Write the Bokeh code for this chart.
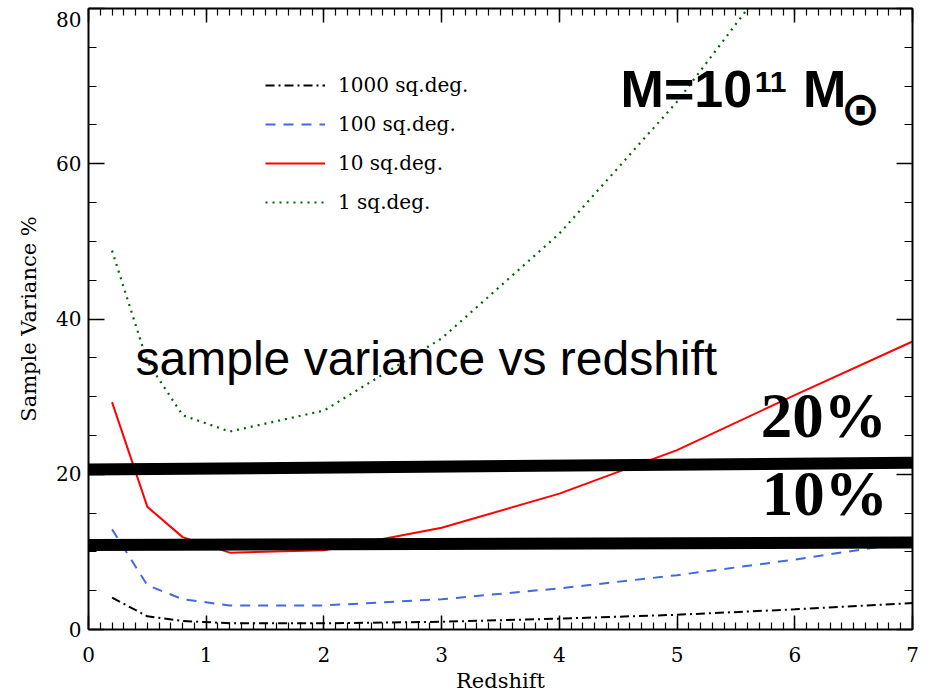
from bokeh.plotting import figure
from bokeh.models import (Range1d, LinearAxis, Label, Legend, LegendItem,
                          SingleIntervalTicker, CustomJSTickFormatter)
from bokeh.embed import file_html
from bokeh.resources import INLINE

# ---- data ----
redshift = [0.2, 0.5, 0.8, 1.2, 2.0, 3.0, 4.0, 5.0, 6.0, 7.0]
var_1000 = [4.1, 1.7, 1.1, 0.8, 0.8, 1.0, 1.4, 1.9, 2.6, 3.4]
var_100 = [12.9, 5.7, 3.9, 3.1, 3.1, 3.9, 5.3, 7.0, 9.0, 11.3]
var_10 = [29.3, 15.8, 11.9, 9.9, 10.2, 13.1, 17.5, 23.1, 30.2, 37.1]
var_1 = [48.8, 34.5, 27.6, 25.5, 28.2, 37.5, 51.0, 68.0, 88.0, 110.0]

labels = ["1000 sq.deg.", "100 sq.deg.", "10 sq.deg.", "1 sq.deg."]

# thick threshold bars drawn over the plot
bar_x = [-0.04, 7.2]
bar20_y = [20.6, 21.5]
bar10_y = [10.9, 11.2]

SERIF = "DejaVu Serif"

p = figure(width=936, height=695, x_range=Range1d(0, 7), y_range=Range1d(0, 80),
           output_backend="svg", toolbar_location=None,
           min_border_left=88, min_border_right=24, min_border_top=8, min_border_bottom=66,
           background_fill_color="white", border_fill_color="white")
p.outline_line_color = None
p.xgrid.visible = False
p.ygrid.visible = False


def style_axis(ax, ticker):
    ax.ticker = ticker
    ax.axis_line_color = "black"
    ax.axis_line_width = 2
    ax.major_tick_line_color = "black"
    ax.minor_tick_line_color = "black"
    ax.major_tick_line_width = 1.5
    ax.minor_tick_line_width = 1.2
    ax.major_tick_out = 0
    ax.minor_tick_out = 0
    ax.major_label_text_font = SERIF
    ax.major_label_text_color = "black"
    ax.major_label_text_font_size = "20px"


style_axis(p.xaxis[0], SingleIntervalTicker(interval=1, num_minor_ticks=10))
p.xaxis[0].major_tick_in = 14
p.xaxis[0].minor_tick_in = 7
p.xaxis[0].major_label_standoff = 17
p.xaxis[0].axis_label = "Redshift"
p.xaxis[0].axis_label_text_font = SERIF
p.xaxis[0].axis_label_text_color = "black"
p.xaxis[0].axis_label_text_font_style = "normal"
p.xaxis[0].axis_label_text_font_size = "21px"
p.xaxis[0].axis_label_standoff = 4

style_axis(p.yaxis[0], SingleIntervalTicker(interval=20, num_minor_ticks=4))
p.yaxis[0].major_tick_in = 16
p.yaxis[0].minor_tick_in = 8
p.yaxis[0].major_label_standoff = 7
# the top label sits just below its tick (as in the reference) so it stays on the page
p.yaxis[0].major_label_overrides = {80: "\n80"}
p.yaxis[0].major_label_text_line_height = 0.3
p.yaxis[0].axis_label = "Sample Variance %"
p.yaxis[0].axis_label_text_font = SERIF
p.yaxis[0].axis_label_text_color = "black"
p.yaxis[0].axis_label_text_font_style = "normal"
p.yaxis[0].axis_label_text_font_size = "21px"
p.yaxis[0].axis_label_standoff = 12

blank = CustomJSTickFormatter(code="return ''")

top = LinearAxis(formatter=blank)
style_axis(top, SingleIntervalTicker(interval=1, num_minor_ticks=10))
top.major_tick_in = 14
top.minor_tick_in = 7
top.major_label_standoff = 0
p.add_layout(top, "above")

right = LinearAxis(formatter=blank)
style_axis(right, SingleIntervalTicker(interval=20, num_minor_ticks=4))
right.major_tick_in = 16
right.minor_tick_in = 8
right.major_label_standoff = 0
p.add_layout(right, "right")

# ---- series ----
r1000 = p.line(redshift, var_1000, line_color="black", line_width=2, line_dash="9 4 2 4")
r100 = p.line(redshift, var_100, line_color="#4169e1", line_width=2, line_dash="10 8")
r10 = p.line(redshift, var_10, line_color="red", line_width=2)
r1 = p.line(redshift, var_1, line_color="#006400", line_width=2.2, line_dash="2 5")

# thick black threshold bars
p.line(bar_x, bar20_y, line_color="black", line_width=12)
p.line(bar_x, bar10_y, line_color="black", line_width=12)

legend = Legend(items=[LegendItem(label=labels[0], renderers=[r1000]),
                       LegendItem(label=labels[1], renderers=[r100]),
                       LegendItem(label=labels[2], renderers=[r10]),
                       LegendItem(label=labels[3], renderers=[r1])],
                location=(177, 415), glyph_width=60, glyph_height=24, label_height=24,
                spacing=15, padding=0, margin=0, label_standoff=13,
                label_text_font=SERIF, label_text_font_size="20px",
                label_text_color="black",
                border_line_color=None, background_fill_alpha=0)
p.add_layout(legend, "center")

# ---- annotations ----
p.add_layout(Label(x=0.40, y=31.5, text="sample variance vs redshift",
                   text_font="Liberation Sans", text_font_size="48px", text_color="black"))
p.add_layout(Label(x=4.52, y=65.9, text="M=10", text_font="Liberation Sans",
                   text_font_style="bold", text_font_size="52px", text_color="black"))
p.add_layout(Label(x=5.66, y=69.2, text="11", text_font="Liberation Sans",
                   text_font_style="bold", text_font_size="30px", text_color="black"))
p.add_layout(Label(x=6.07, y=65.9, text="M", text_font="Liberation Sans",
                   text_font_style="bold", text_font_size="52px", text_color="black"))
p.add_layout(Label(x=6.558, y=67.1, text="\u2299", text_font="DejaVu Sans",
                   text_font_style="bold", text_font_size="47px", text_color="black",
                   text_align="center", text_baseline="middle"))
p.add_layout(Label(x=5.71, y=23.0, text="20%", text_font="Liberation Serif",
                   text_font_style="bold", text_font_size="63px", text_color="black"))
p.add_layout(Label(x=5.72, y=12.9, text="10%", text_font="Liberation Serif",
                   text_font_style="bold", text_font_size="63px", text_color="black"))

open("out.html", "w").write(file_html(p, INLINE))
